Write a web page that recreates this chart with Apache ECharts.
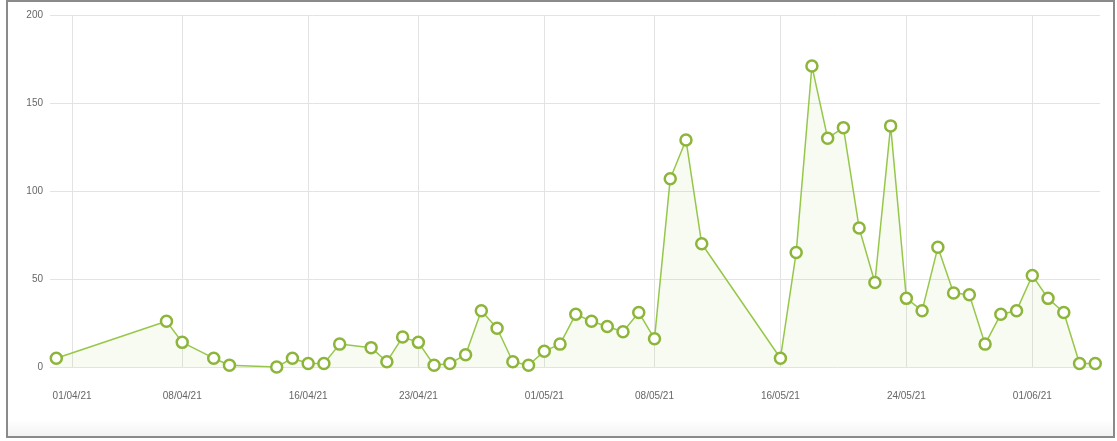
<!DOCTYPE html>
<html>
<head>
<meta charset="utf-8">
<script src="https://cdn.jsdelivr.net/npm/echarts@6/dist/echarts.min.js"></script>
<style>
html,body{margin:0;padding:0;background:#fff;}
#chart{width:1117px;height:441px;}
</style>
</head>
<body>
<div id="chart"></div>
<script>
// ---- data ----
const dates = ['2021-03-31','2021-04-07','2021-04-08','2021-04-10','2021-04-11','2021-04-14','2021-04-15','2021-04-16','2021-04-17','2021-04-18',
  '2021-04-20','2021-04-21','2021-04-22','2021-04-23','2021-04-24','2021-04-25','2021-04-26','2021-04-27','2021-04-28','2021-04-29',
  '2021-04-30','2021-05-01','2021-05-02','2021-05-03','2021-05-04','2021-05-05','2021-05-06','2021-05-07','2021-05-08','2021-05-09',
  '2021-05-10','2021-05-11','2021-05-16','2021-05-17','2021-05-18','2021-05-19','2021-05-20','2021-05-21','2021-05-22','2021-05-23',
  '2021-05-24','2021-05-25','2021-05-26','2021-05-27','2021-05-28','2021-05-29','2021-05-30','2021-05-31','2021-06-01','2021-06-02',
  '2021-06-03','2021-06-04','2021-06-05'];
const values = [5,26,14,5,1,0,5,2,2,13,
  11,3,17,14,1,2,7,32,22,3,
  1,9,13,30,26,23,20,31,16,107,
  129,70,5,65,171,130,136,79,48,137,
  39,32,68,42,41,13,30,32,52,39,
  31,2,2];
const tickDates = ['2021-04-01','2021-04-08','2021-04-16','2021-04-23','2021-05-01','2021-05-08','2021-05-16','2021-05-24','2021-06-01'];
const yTicks = [0,50,100,150,200];

// ---- helpers ----
const DAY = 86400000;
function ts(s){ const p = s.split('-').map(Number); return Date.UTC(p[0], p[1]-1, p[2]); }
function pad(n){ return (n<10?'0':'')+n; }
function fmt(v){ const d = new Date(v); return pad(d.getUTCDate())+'/'+pad(d.getUTCMonth()+1)+'/'+String(d.getUTCFullYear()).slice(2); }

const seriesData = dates.map((d,i)=>[ts(d), values[i]]);
const tickTs = tickDates.map(ts);
const base = ts('2021-04-01');

const chart = echarts.init(document.getElementById('chart'), null, {renderer:'canvas'});
chart.setOption({
  animation:false,
  backgroundColor:'#fff',
  grid:{left:50, right:17, top:15, bottom:74, containLabel:false},
  xAxis:{
    type:'value',
    min: base - 1.4*DAY,
    max: base + 65.3*DAY,
    axisLine:{show:false},
    axisTick:{show:false, customValues: tickTs},
    axisLabel:{customValues: tickTs, formatter: fmt, color:'#666', fontSize:10, margin:24, fontFamily:'Liberation Sans, Arial, sans-serif'},
    splitLine:{show:true, lineStyle:{color:'#e3e3e3', width:1}}
  },
  yAxis:{
    type:'value', min:0, max:200, interval:50,
    customValues: yTicks,
    axisLine:{show:false}, axisTick:{show:false},
    axisLabel:{color:'#666', fontSize:10, margin:7, fontFamily:'Liberation Sans, Arial, sans-serif'},
    splitLine:{lineStyle:{color:'#e3e3e3', width:1}}
  },
  series:[{
    type:'line',
    data: seriesData,
    symbol:'circle',
    symbolSize:11,
    showAllSymbol:true,
    lineStyle:{color:'#97c74a', width:1.5},
    itemStyle:{color:'#fff', borderColor:'#8cb53a', borderWidth:2.5},
    areaStyle:{color:'rgba(150,200,80,0.11)'},
    z:3
  }],
  graphic:[
    {type:'rect', shape:{x:7, y:420, width:1107, height:17}, silent:true,
     style:{fill:new echarts.graphic.LinearGradient(0,0,0,1,[{offset:0,color:'rgba(0,0,0,0)'},{offset:1,color:'rgba(0,0,0,0.05)'}])}},
    {type:'rect', shape:{x:7, y:1, width:1107, height:436}, silent:true,
     style:{fill:'none', stroke:'#8a8a8a', lineWidth:2}}
  ]
});
</script>
</body>
</html>
